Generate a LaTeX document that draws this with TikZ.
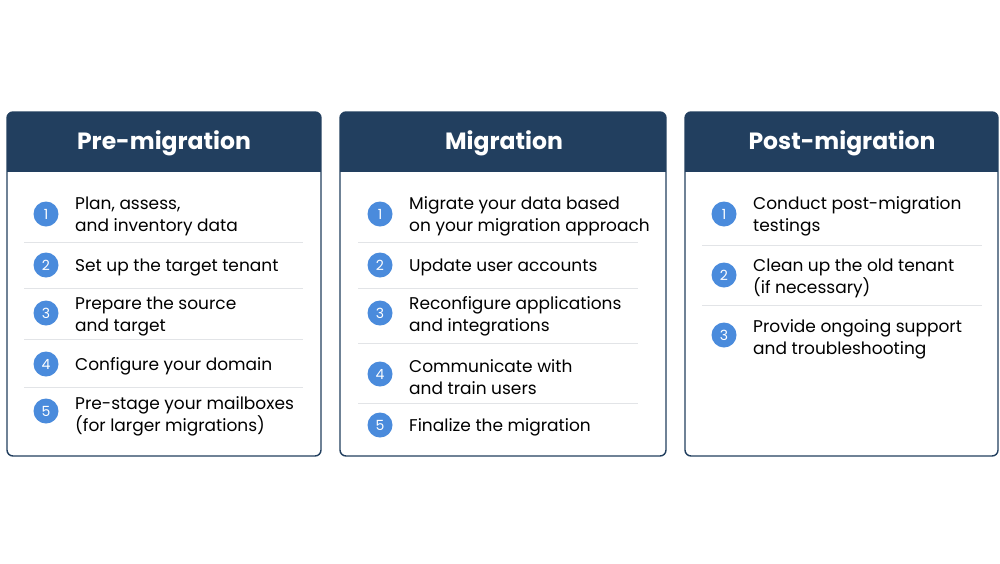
\documentclass[tikz,border=0pt]{standalone}
\usepackage{fontspec}
\setmainfont{Poppins}
\definecolor{navy}{HTML}{223F5F}
\definecolor{stepblue}{HTML}{4A8BDC}
\definecolor{rulegray}{HTML}{E2E4E7}

\begin{document}
\begin{tikzpicture}[x=1pt, y=-1pt,
  panel/.style={draw=navy, line width=1.4pt, rounded corners=6pt},
  head/.style={anchor=center, inner sep=0pt, text=white, font=\fontsize{23.5}{28}\selectfont\bfseries},
  num/.style={circle, fill=stepblue, text=white, minimum size=25pt, inner sep=0pt, font=\fontsize{14}{14}\selectfont},
  item/.style={anchor=west, align=left, inner sep=0pt, font=\fontsize{17}{22}\selectfont},
  sep/.style={draw=rulegray, line width=0.9pt}]

  \fill[white] (0,0) rectangle (1000,563);

  % ==== panel boxes with navy header ====
  \begin{scope}
    \clip[rounded corners=6pt] (7,112) rectangle (321,456);
    \fill[navy] (7,112) rectangle (321,172);
  \end{scope}
  \draw[panel] (7,112) rectangle (321,456);

  \begin{scope}
    \clip[rounded corners=6pt] (340,112) rectangle (666,456);
    \fill[navy] (340,112) rectangle (666,172);
  \end{scope}
  \draw[panel] (340,112) rectangle (666,456);

  \begin{scope}
    \clip[rounded corners=6pt] (685,112) rectangle (998,456);
    \fill[navy] (685,112) rectangle (998,172);
  \end{scope}
  \draw[panel] (685,112) rectangle (998,456);

  % ==== headers ====
  \node[head] (preH)  at (164,143) {Pre-migration};
  \node[head] (migH)  at (504,143) {Migration};
  \node[head] (postH) at (842,143) {Post-migration};

  % ==== Pre-migration ====
  \node[num] (pre1) at (46,214) {1};
  \node[item] (preT1) at (75,216) {Plan, assess,\\and inventory data};
  \draw[sep] (24,242) -- (303,242);
  \node[num] (pre2) at (46,265) {2};
  \node[item] (preT2) at (75,267) {Set up the target tenant};
  \draw[sep] (24,288) -- (303,288);
  \node[num] (pre3) at (46,313) {3};
  \node[item] (preT3) at (75,316) {Prepare the source\\and target};
  \draw[sep] (24,339) -- (303,339);
  \node[num] (pre4) at (46,364) {4};
  \node[item] (preT4) at (75,366) {Configure your domain};
  \draw[sep] (24,387) -- (303,387);
  \node[num] (pre5) at (46,411) {5};
  \node[item] (preT5) at (75,416) {Pre-stage your mailboxes\\(for larger migrations)};

  % ==== Migration ====
  \node[num] (mig1) at (380,214) {1};
  \node[item] (migT1) at (409,216) {Migrate your data based\\on your migration approach};
  \draw[sep] (358,242) -- (638,242);
  \node[num] (mig2) at (380,265) {2};
  \node[item] (migT2) at (409,267) {Update user accounts};
  \draw[sep] (358,288) -- (638,288);
  \node[num] (mig3) at (380,313) {3};
  \node[item] (migT3) at (409,316) {Reconfigure applications\\and integrations};
  \draw[sep] (358,343) -- (638,343);
  \node[num] (mig4) at (380,374) {4};
  \node[item] (migT4) at (409,377) {Communicate with\\and train users};
  \draw[sep] (358,403) -- (638,403);
  \node[num] (mig5) at (380,425) {5};
  \node[item] (migT5) at (409,427) {Finalize the migration};

  % ==== Post-migration ====
  \node[num] (post1) at (724,214) {1};
  \node[item] (postT1) at (753,216) {Conduct post-migration\\testings};
  \draw[sep] (702,245) -- (982,245);
  \node[num] (post2) at (724,275) {2};
  \node[item] (postT2) at (753,278) {Clean up the old tenant\\(if necessary)};
  \draw[sep] (702,305) -- (982,305);
  \node[num] (post3) at (724,335) {3};
  \node[item] (postT3) at (753,339) {Provide ongoing support\\and troubleshooting};

  \path[use as bounding box] (0,0) rectangle (1000,563);
\end{tikzpicture}
\end{document}
